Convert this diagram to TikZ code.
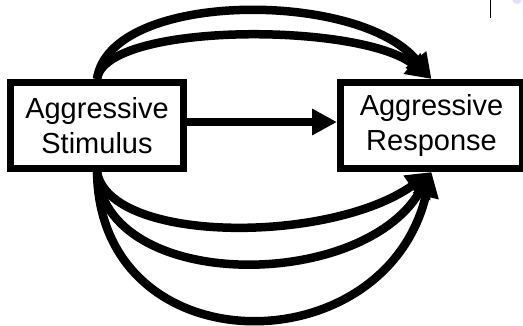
\documentclass[tikz,border=0pt]{standalone}
\usepackage{fontspec}
\setmainfont{Liberation Sans}
\usetikzlibrary{arrows.meta}
\begin{document}
\begin{tikzpicture}[x=1pt,y=-1pt,
  box/.style={draw, line width=7pt, minimum height=86pt, align=center,
    font=\fontsize{29}{35}\selectfont, inner sep=0pt},
  conn/.style={line width=8.5pt, -{Triangle[length=25pt,width=25pt]}}]
\useasboundingbox (0,0) rectangle (523,325);
\node[box, minimum width=173pt] (s) at (97,125.5) {Aggressive\\Stimulus};
\node[box, minimum width=182pt] (r) at (431.5,125.5) {Aggressive\\Response};
\draw[conn, line width=8pt] ([yshift=3.5pt]s.east) -- ([yshift=3.5pt]r.west);
\draw[conn] (s.north) .. controls (110,-10) and (360,-10) .. (r.north);
\draw[conn] (s.north) .. controls (105,22) and (360,22) .. (r.north);
\draw[conn] (s.south) .. controls (110,244) and (330,244) .. (r.south);
\draw[conn] (s.south) .. controls (105,292) and (360,292) .. (r.south);
\draw[conn] (s.south) .. controls (100,367) and (385,367) .. (r.south);
\coordinate (m1) at (490.7,0);
\coordinate (m2) at (490.7,18);
\draw[line width=0.8pt] (m1) -- (m2);
\fill[blue!12] (517,-1) circle (5);
\end{tikzpicture}
\end{document}
